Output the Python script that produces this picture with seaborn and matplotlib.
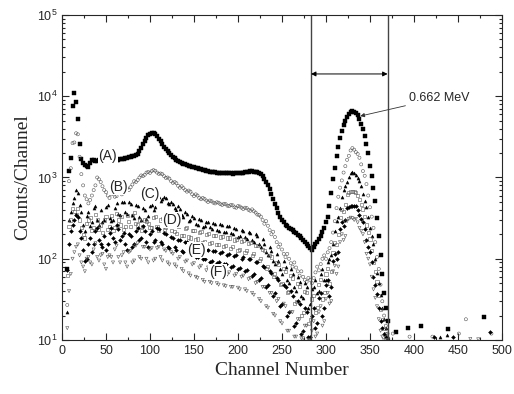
import numpy as np
import pandas as pd
import matplotlib
matplotlib.use("Agg")
import matplotlib.pyplot as plt
from matplotlib.ticker import MultipleLocator, LogLocator
import seaborn as sns

# channel grids (two interleaved sets of channels)
channels = list(range(6, 374, 4))
channels_mid = list(range(8, 372, 4))

counts_a = [75, 1750, 11000, 5300, 1700, 1420, 1350, 1650, 1600, 1620,
            1650, 1640, 1660, 1690, 1650, 1680, 1710, 1750, 1800, 1860,
            1950, 2300, 2800, 3300, 3500, 3400, 3000, 2600, 2250, 2000,
            1800, 1650, 1560, 1480, 1420, 1380, 1330, 1300, 1260, 1230,
            1200, 1170, 1165, 1140, 1150, 1120, 1135, 1110, 1125, 1150,
            1140, 1175, 1190, 1180, 1160, 1100, 960, 820, 620, 470,
            370, 300, 260, 240, 225, 205, 190, 170, 150, 135,
            140, 160, 190, 240, 330, 640, 1300, 2400, 3700, 5000,
            6100, 6500, 6200, 5300, 3900, 2600, 1400, 750, 320, 110,
            38, 17]
counts_a_mid = [1200, 7500, 8500, 2600, 1500, 1380, 1500, 1620, 1610, 1640,
                1645, 1650, 1675, 1670, 1665, 1700, 1730, 1770, 1830, 1900,
                2100, 2550, 3050, 3450, 3480, 3200, 2800, 2400, 2100, 1900,
                1720, 1600, 1520, 1450, 1400, 1350, 1310, 1280, 1245, 1210,
                1185, 1170, 1150, 1145, 1135, 1130, 1120, 1130, 1140, 1145,
                1160, 1180, 1200, 1180, 1140, 1040, 890, 720, 540, 420,
                330, 280, 250, 232, 215, 198, 180, 160, 142, 130,
                150, 175, 215, 280, 450, 950, 1850, 3100, 4400, 5600,
                6400, 6400, 5800, 4600, 3200, 2000, 1050, 520, 190, 65,
                25]
counts_b = [27, 1300, 2700, 3400, 1100, 600, 480, 600, 800, 950,
            780, 660, 560, 640, 590, 690, 640, 740, 760, 900,
            930, 1060, 1080, 1170, 1200, 1210, 1110, 1100, 990, 970,
            860, 850, 750, 740, 670, 670, 590, 600, 540, 545,
            500, 510, 480, 490, 460, 470, 445, 455, 425, 440,
            410, 420, 390, 385, 350, 330, 270, 255, 200, 185,
            140, 130, 105, 100, 80, 78, 62, 60, 52, 55,
            58, 80, 86, 110, 120, 160, 290, 580, 920, 1380,
            1850, 2300, 2050, 1750, 1200, 830, 430, 240, 105, 48,
            20, 12]
counts_b_mid = [900, 2650, 3500, 1800, 800, 540, 530, 700, 1000, 880,
                700, 600, 620, 580, 650, 620, 720, 700, 820, 880,
                1000, 1040, 1150, 1140, 1230, 1150, 1120, 1040, 1000, 900,
                880, 790, 780, 700, 690, 620, 620, 560, 560, 520,
                520, 490, 495, 470, 475, 450, 460, 430, 445, 425,
                425, 400, 405, 370, 345, 300, 290, 225, 215, 160,
                150, 115, 115, 88, 90, 70, 70, 55, 58, 50,
                68, 72, 100, 100, 135, 210, 420, 750, 1150, 1650,
                2150, 2200, 1950, 1450, 1050, 600, 330, 160, 75, 30,
                15]
counts_c = [22, 380, 560, 650, 380, 220, 380, 280, 450, 260,
            280, 430, 320, 300, 480, 350, 500, 360, 470, 320,
            440, 300, 400, 340, 460, 430, 580, 540, 560, 470,
            470, 400, 410, 330, 360, 300, 320, 260, 300, 250,
            280, 230, 270, 220, 260, 215, 250, 200, 235, 190,
            220, 175, 205, 160, 190, 140, 150, 110, 125, 85,
            95, 65, 80, 50, 65, 40, 52, 33, 45, 28,
            45, 38, 65, 55, 90, 110, 220, 330, 580, 780,
            1020, 1160, 1060, 900, 620, 430, 240, 150, 66, 36,
            18, 11]
counts_c_mid = [300, 480, 700, 460, 260, 340, 250, 420, 300, 400,
                300, 460, 290, 420, 360, 500, 380, 500, 350, 460,
                330, 420, 310, 450, 400, 540, 520, 580, 480, 500,
                420, 440, 350, 380, 290, 340, 270, 310, 245, 285,
                245, 275, 225, 265, 215, 255, 205, 240, 185, 225,
                185, 215, 170, 200, 150, 175, 120, 140, 95, 115,
                75, 95, 55, 75, 45, 60, 35, 50, 25, 42,
                55, 40, 75, 55, 100, 150, 290, 420, 700, 880,
                1120, 1120, 980, 780, 520, 330, 190, 100, 50, 25,
                14]
counts_d = [63, 300, 380, 420, 240, 180, 300, 220, 350, 230,
            210, 330, 250, 220, 360, 260, 230, 340, 250, 370,
            260, 220, 300, 270, 240, 330, 220, 310, 240, 280,
            270, 205, 255, 195, 240, 180, 225, 175, 215, 165,
            205, 160, 195, 150, 190, 145, 180, 140, 175, 130,
            170, 125, 160, 115, 145, 100, 125, 80, 105, 65,
            85, 50, 70, 40, 58, 30, 45, 22, 38, 18,
            35, 25, 55, 38, 75, 70, 160, 200, 400, 460,
            650, 680, 660, 530, 410, 260, 175, 90, 52, 24,
            14, 10]
counts_d_mid = [250, 420, 350, 300, 200, 270, 320, 240, 300, 260,
                300, 230, 340, 240, 300, 330, 250, 290, 340, 270,
                300, 250, 290, 240, 320, 250, 300, 230, 300, 220,
                215, 250, 195, 235, 185, 225, 170, 210, 160, 200,
                155, 195, 150, 185, 140, 180, 135, 170, 125, 165,
                120, 155, 110, 145, 95, 130, 75, 110, 60, 90,
                48, 75, 38, 62, 28, 50, 20, 40, 16, 32,
                22, 48, 32, 65, 50, 120, 150, 320, 380, 620,
                670, 680, 600, 470, 330, 210, 125, 70, 35, 18,
                12]
counts_e = [73, 220, 300, 330, 180, 95, 150, 120, 220, 170,
            140, 130, 210, 180, 260, 170, 210, 130, 190, 150,
            240, 180, 220, 140, 220, 170, 230, 150, 200, 135,
            180, 130, 170, 120, 160, 110, 150, 105, 140, 100,
            130, 95, 125, 90, 120, 85, 115, 82, 110, 78,
            105, 72, 100, 65, 90, 58, 80, 48, 66, 38,
            55, 28, 45, 22, 35, 16, 28, 13, 22, 11,
            25, 16, 38, 25, 55, 45, 115, 120, 280, 300,
            430, 440, 440, 350, 280, 170, 120, 60, 37, 17,
            12, 10]
counts_e_mid = [150, 260, 350, 220, 130, 100, 180, 150, 240, 150,
                190, 150, 240, 160, 230, 190, 150, 200, 140, 220,
                170, 250, 160, 200, 160, 240, 160, 210, 140, 185,
                140, 170, 125, 160, 115, 150, 105, 140, 98, 130,
                92, 125, 88, 118, 85, 112, 80, 108, 75, 100,
                70, 98, 62, 92, 55, 82, 45, 70, 35, 58,
                26, 48, 20, 40, 15, 30, 12, 25, 11, 20,
                14, 33, 20, 48, 35, 95, 100, 230, 250, 420,
                440, 450, 400, 310, 230, 140, 90, 48, 25, 14,
                11]
counts_f = [14, 65, 120, 150, 90, 70, 105, 85, 155, 95,
            115, 75, 110, 90, 145, 90, 120, 80, 125, 95,
            155, 100, 140, 90, 135, 100, 140, 95, 125, 85,
            115, 80, 105, 70, 95, 62, 88, 58, 82, 52,
            78, 50, 74, 48, 70, 46, 68, 45, 65, 42,
            62, 40, 58, 36, 52, 30, 45, 25, 38, 20,
            32, 16, 26, 13, 22, 11, 18, 10.5, 15, 10,
            17, 12, 26, 17, 38, 30, 82, 80, 200, 190,
            310, 315, 310, 240, 200, 115, 85, 42, 26, 13,
            10, 10]
counts_f_mid = [40, 100, 140, 110, 80, 100, 90, 130, 105, 110,
                85, 105, 105, 130, 105, 110, 90, 120, 90, 145,
                105, 140, 100, 130, 95, 135, 105, 130, 90, 120,
                85, 100, 75, 92, 66, 85, 60, 78, 55, 72,
                52, 70, 50, 66, 47, 64, 45, 62, 44, 60,
                42, 56, 38, 50, 32, 45, 26, 38, 21, 30,
                17, 28, 13, 22, 11, 18, 10.5, 15, 10, 13,
                11, 22, 15, 32, 28, 70, 65, 160, 170, 290,
                320, 300, 280, 220, 160, 100, 60, 33, 18, 11,
                10]

# stray counts past the photopeak window
tail_ch_a = [380, 393, 408, 439, 480]
tail_a = [12.5, 14, 15, 13.7, 19]
tail_ch_b = [376, 395, 421, 451, 459, 488]
tail_b = [12, 11, 11, 12, 18, 12]
tail_ch_c = [430, 437]
tail_c = [11, 11.5]
tail_ch_e = [423, 444, 486]
tail_e = [11, 11, 12.5]
tail_ch_f = [464, 473]
tail_f = [10.3, 10.2]

labels = ["(A)", "(B)", "(C)", "(D)", "(E)", "(F)"]
label_ch = [52, 64, 100, 125, 153, 177]
label_counts = [1840, 764, 627, 300, 128, 69]

window = [283, 370]
peak_text = "0.662 MeV"

sns.set_style("ticks")
plt.rcParams["font.family"] = ["Liberation Sans", "DejaVu Sans"]

fig = plt.figure(figsize=(5.14, 3.94), dpi=100)
ax = fig.add_axes([0.1206, 0.137, 0.856, 0.825])

series = [
    (channels + channels_mid + tail_ch_a, counts_a + counts_a_mid + tail_a, "s", True, 6),
    (channels + channels_mid + tail_ch_b, counts_b + counts_b_mid + tail_b, "o", False, 5),
    (channels + channels_mid + tail_ch_c, counts_c + counts_c_mid + tail_c, "^", True, 5),
    (channels + channels_mid, counts_d + counts_d_mid, "s", False, 5),
    (channels + channels_mid + tail_ch_e, counts_e + counts_e_mid + tail_e, "D", True, 4),
    (channels + channels_mid + tail_ch_f, counts_f + counts_f_mid + tail_f, "v", False, 5),
]
for xs, ys, mk, filled, size in series:
    df = pd.DataFrame({"ch": xs, "counts": ys})
    if filled:
        sns.scatterplot(data=df, x="ch", y="counts", ax=ax, marker=mk, s=size,
                        color="black", edgecolor="black", linewidth=0.3)
    else:
        sns.scatterplot(data=df, x="ch", y="counts", ax=ax, marker=mk, s=size,
                        facecolor="none", edgecolor="#555555", linewidth=0.4)

ax.set_yscale("log")
ax.set_xlim(0, 500)
ax.set_ylim(10, 1e5)
ax.xaxis.set_major_locator(MultipleLocator(50))
ax.xaxis.set_minor_locator(MultipleLocator(25))
ax.yaxis.set_minor_locator(LogLocator(base=10, subs=np.arange(2, 10)))
ax.tick_params(which="both", direction="in", top=True, right=True,
               labelsize=9, width=0.8)
ax.tick_params(which="major", length=5)
ax.tick_params(which="minor", length=2.5)
for sp in ax.spines.values():
    sp.set_linewidth(0.8)

for xv in window:
    ax.axvline(xv, color="#444444", lw=1)
ax.annotate("", xy=(window[0], 18800), xytext=(window[1], 18800),
            arrowprops=dict(arrowstyle="<|-|>", color="black", lw=0.7,
                            mutation_scale=7, shrinkA=0, shrinkB=0))
ax.annotate(peak_text, xy=(339, 5700), xytext=(394, 9500), fontsize=9,
            va="center", ha="left",
            arrowprops=dict(arrowstyle="-|>", color="#333333", lw=0.6,
                            mutation_scale=6, shrinkA=0, shrinkB=0))

for txt, xv, yv in zip(labels, label_ch, label_counts):
    ax.text(xv, yv, txt, fontsize=10, ha="center", va="center",
            bbox=dict(facecolor="white", edgecolor="none", pad=0.5))

ax.set_xlabel("Channel Number", family="Liberation Serif", fontsize=14)
ax.set_ylabel("Counts/Channel", family="Liberation Serif", fontsize=14)

fig.savefig("out.png", dpi=100)
